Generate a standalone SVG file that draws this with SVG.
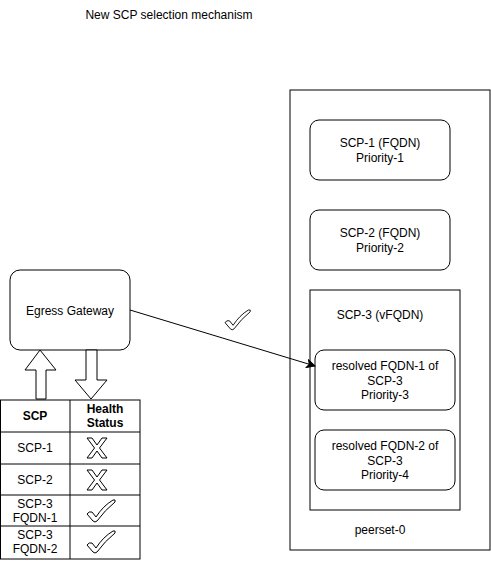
<svg xmlns="http://www.w3.org/2000/svg" width="491" height="561" viewBox="0 0 491 561">
<defs>
<style>
text{font-family:"Liberation Sans",Arial,sans-serif;font-size:12px;fill:#000;text-anchor:middle}
.b{font-weight:bold}
.box{fill:#fff;stroke:#000;stroke-width:1}
.sym{fill:#fff;stroke:#000;stroke-width:1;stroke-linejoin:round}
</style>
<marker id="arr" markerWidth="10" markerHeight="10" refX="9" refY="5" orient="auto" markerUnits="userSpaceOnUse">
<path d="M1,1 L9,5 L1,9 L3,5 Z" fill="#000" stroke="#000" stroke-width="1"/>
</marker>
<path id="xm" d="M0,0 L5,0 L10,7 L15,0 L20,0 L12.5,10 L20,20 L15,20 L10,13 L5,20 L0,20 L7.5,10 Z"/>
<path id="ck" d="M0,14 Q2,11 5,12 L9,17 Q16,6 26,0 Q29,-1 28,2 Q18,10 10,21 Q8,23 6,21 Z"/>
</defs>
<rect width="491" height="561" fill="#fff"/>
<text x="169" y="19">New SCP selection mechanism</text>

<g id="peerset">
<rect class="box" x="290" y="90" width="200" height="460"/>
<text x="380" y="534">peerset-0</text>
</g>
<g id="scp1">
<rect class="box" x="310" y="120" width="140" height="60" rx="9"/>
<text x="380" y="147">SCP-1 (FQDN)</text>
<text x="380" y="161.5">Priority-1</text>
</g>
<g id="scp2">
<rect class="box" x="310" y="210" width="140" height="60" rx="9"/>
<text x="380" y="237">SCP-2 (FQDN)</text>
<text x="380" y="251.5">Priority-2</text>
</g>
<g id="scp3">
<rect class="box" x="310" y="290" width="150" height="220"/>
<text x="380" y="319">SCP-3 (vFQDN)</text>
</g>
<g id="fqdn1">
<rect class="box" x="315" y="350" width="140" height="60" rx="9"/>
<text x="385" y="370">resolved FQDN-1 of</text>
<text x="385" y="384.5">SCP-3</text>
<text x="385" y="399">Priority-3</text>
</g>
<g id="fqdn2">
<rect class="box" x="315" y="430" width="140" height="60" rx="9"/>
<text x="385" y="450">resolved FQDN-2 of</text>
<text x="385" y="464.5">SCP-3</text>
<text x="385" y="479">Priority-4</text>
</g>
<g id="egress">
<rect class="box" x="10" y="270" width="120" height="80" rx="10"/>
<text x="70" y="315">Egress Gateway</text>
</g>
<g id="table">
<rect class="box" x="0.5" y="400" width="139.5" height="159"/>
<line x1="70" y1="400" x2="70" y2="559" stroke="#000"/>
<line x1="0.5" y1="432" x2="140" y2="432" stroke="#000"/>
<line x1="0.5" y1="464" x2="140" y2="464" stroke="#000"/>
<line x1="0.5" y1="495" x2="140" y2="495" stroke="#000"/>
<line x1="0.5" y1="526" x2="140" y2="526" stroke="#000"/>
<text class="b" x="35" y="420">SCP</text>
<text class="b" x="105" y="413">Health</text>
<text class="b" x="105" y="427">Status</text>
<text x="35" y="452">SCP-1</text>
<text x="35" y="484">SCP-2</text>
<text x="35" y="508">SCP-3</text>
<text x="35" y="522">FQDN-1</text>
<text x="35" y="539">SCP-3</text>
<text x="35" y="553">FQDN-2</text>
<use href="#xm" class="sym" transform="translate(87,438)"/>
<use href="#xm" class="sym" transform="translate(87,470)"/>
<use href="#ck" class="sym" transform="translate(87,500)"/>
<use href="#ck" class="sym" transform="translate(87,531)"/>
</g>
<g id="connectors">
<path class="sym" d="M40,350 L56,370 L46,370 L46,399 L36,399 L36,370 L25,370 Z"/>
<path class="sym" d="M86,350 L97,350 L97,380 L107,380 L91,399 L75,380 L86,380 Z"/>
<line x1="130" y1="310" x2="315" y2="366" stroke="#000" stroke-width="1" marker-end="url(#arr)"/>
<use href="#ck" class="sym" transform="translate(225,310) scale(0.9)"/>
</g>
</svg>
